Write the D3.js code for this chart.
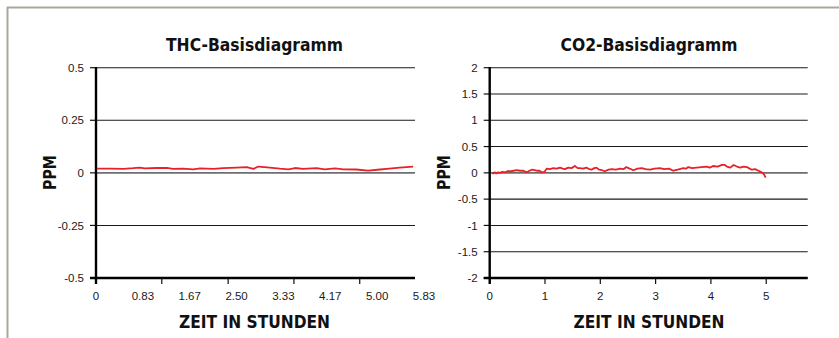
<!DOCTYPE html>
<html><head><meta charset="utf-8">
<script src="https://cdn.jsdelivr.net/npm/d3@7"></script>
<style>
html,body{margin:0;padding:0;background:#fff;}
svg{display:block;}
</style></head>
<body>
<svg id="c" width="839" height="338"></svg>
<script>
// ---- data ----
const thcTitle = "THC-Basisdiagramm";
const co2Title = "CO2-Basisdiagramm";
const xTitle = "ZEIT IN STUNDEN";
const yTitle = "PPM";

const thcXLabels = ["0","0.83","1.67","2.50","3.33","4.17","5.00","5.83"];
const thcXLabelValues = [0,0.833,1.667,2.5,3.333,4.167,5.0,5.833];
const thcXTickMarks = [0,1.17,2.35,3.52,4.69];
const thcYTicks = [0.5,0.25,0,-0.25,-0.5];
const thcYLabels = ["0.5","0.25","0","-0.25","-0.5"];

const co2XTicks = [0,1,2,3,4,5];
const co2YTicks = [2,1.5,1,0.5,0,-0.5,-1,-1.5,-2];
const co2YLabels = ["2","1.5","1","0.5","0","-0.5","-1","-1.5","-2"];

const thcTime = [0.02,0.25,0.49,0.66,0.78,0.87,1.08,1.26,1.37,1.55,1.73,1.85,2.09,2.26,2.50,2.68,2.80,2.89,3.09,3.27,3.42,3.54,3.68,3.92,4.07,4.25,4.40,4.63,4.84,5.05,5.17,5.40,5.64];
const thcPpm  = [0.020,0.020,0.019,0.022,0.025,0.021,0.023,0.024,0.019,0.020,0.017,0.021,0.019,0.022,0.025,0.027,0.019,0.030,0.025,0.020,0.017,0.023,0.019,0.022,0.017,0.021,0.017,0.016,0.011,0.016,0.019,0.025,0.030];

const co2Time = [0.05,0.09,0.12,0.15,0.18,0.23,0.28,0.32,0.37,0.43,0.49,0.55,0.61,0.67,0.72,0.76,0.81,0.85,0.90,0.94,0.99,1.03,1.09,1.15,1.21,1.27,1.32,1.36,1.42,1.48,1.54,1.59,1.63,1.69,1.75,1.80,1.84,1.89,1.93,1.98,2.03,2.08,2.15,2.21,2.28,2.36,2.42,2.47,2.53,2.60,2.67,2.75,2.82,2.90,2.98,3.08,3.15,3.24,3.32,3.40,3.50,3.55,3.59,3.66,3.74,3.83,3.92,3.98,4.04,4.12,4.20,4.25,4.29,4.35,4.41,4.47,4.53,4.59,4.65,4.70,4.74,4.80,4.86,4.92,4.96,4.99];
const co2Ppm  = [-0.02,0.01,-0.01,0.01,0.00,0.02,0.01,0.03,0.03,0.04,0.05,0.04,0.04,0.01,0.04,0.06,0.05,0.04,0.04,0.01,0.02,0.08,0.07,0.09,0.08,0.10,0.08,0.07,0.10,0.09,0.13,0.09,0.09,0.08,0.10,0.07,0.06,0.09,0.10,0.06,0.05,0.03,0.06,0.07,0.06,0.08,0.07,0.11,0.08,0.05,0.08,0.09,0.07,0.06,0.08,0.09,0.07,0.08,0.04,0.06,0.09,0.08,0.11,0.09,0.10,0.11,0.12,0.10,0.13,0.12,0.15,0.15,0.12,0.10,0.15,0.12,0.10,0.12,0.11,0.08,0.06,0.07,0.04,0.01,-0.03,-0.09];

// ---- drawing ----
const svg = d3.select("#c");
const borderCol = "#aba79b";
svg.append("line").attr("x1",7).attr("x2",839).attr("y1",7.5).attr("y2",7.5).attr("stroke",borderCol).attr("stroke-width",2);
svg.append("line").attr("x1",7.5).attr("x2",7.5).attr("y1",7).attr("y2",338).attr("stroke",borderCol).attr("stroke-width",2);

const labFont = "'Liberation Sans', Arial, sans-serif";
const boldFont = "'DejaVu Sans Condensed','DejaVu Sans', sans-serif";

function panel(o){
  const g = svg.append("g");
  const x = d3.scaleLinear().domain(o.xDomain).range(o.xRange);
  const y = d3.scaleLinear().domain(o.yDomain).range([278, 67.7]);
  const xEnd = o.plotEnd;
  // gridlines
  g.selectAll(".grid").data(o.yTicks).enter().append("line")
    .attr("x1", x(0)).attr("x2", xEnd)
    .attr("y1", d=>y(d)).attr("y2", d=>y(d))
    .attr("stroke", d=> d===0 ? "#6e6e6e" : "#1a1a1a")
    .attr("stroke-width", d=> d===0 ? 1.6 : 1.1);
  // y tick marks and labels
  g.selectAll(".yt").data(o.yTicks).enter().append("line")
    .attr("x1", x(0)-6).attr("x2", x(0)).attr("y1", d=>y(d)).attr("y2", d=>y(d))
    .attr("stroke","#111").attr("stroke-width",1.2);
  g.selectAll(".yl").data(o.yTicks).enter().append("text")
    .attr("x", x(0)-12).attr("y", d=>y(d)).attr("dy","0.36em")
    .attr("text-anchor","end").attr("font-family",labFont).attr("font-size",11.5)
    .attr("fill","#1a1a1a").text((d,i)=>o.yLabels[i]);
  // x axis line (bottom)
  g.append("line").attr("x1", x(0)-6).attr("x2", xEnd).attr("y1", 278).attr("y2", 278)
    .attr("stroke","#000").attr("stroke-width",2.6);
  // x tick marks
  g.selectAll(".xt").data(o.xTickMarks).enter().append("line")
    .attr("x1", d=>x(d)).attr("x2", d=>x(d)).attr("y1", 278).attr("y2", 284)
    .attr("stroke","#111").attr("stroke-width",1.2);
  // x labels
  g.selectAll(".xl").data(o.xLabelValues).enter().append("text")
    .attr("x", d=>x(d)).attr("y", 296).attr("dy","0.36em")
    .attr("text-anchor","middle").attr("font-family",labFont).attr("font-size",11.5)
    .attr("fill","#1a1a1a").text((d,i)=>o.xLabels[i]);
  // y axis line
  g.append("line").attr("x1", x(0)).attr("x2", x(0)).attr("y1", 67).attr("y2", 284)
    .attr("stroke","#000").attr("stroke-width",2.4);
  // data line
  const line = d3.line().x(d=>x(d[0])).y(d=>y(d[1]));
  g.append("path").datum(o.time.map((t,i)=>[t,o.values[i]]))
    .attr("d", line).attr("fill","none").attr("stroke","#e8202a").attr("stroke-width",1.8)
    .attr("stroke-linejoin","round");
  // titles
  g.append("text").attr("x", o.titleX).attr("y", 51)
    .attr("text-anchor","middle").attr("font-family",boldFont).attr("font-weight","bold")
    .attr("font-size",17.5).attr("fill","#111")
    .attr("textLength", o.titleLen).attr("lengthAdjust","spacingAndGlyphs")
    .text(o.title);
  g.append("text").attr("x", o.titleX).attr("y", 328)
    .attr("text-anchor","middle").attr("font-family",boldFont).attr("font-weight","bold")
    .attr("font-size",18).attr("fill","#111")
    .attr("textLength", 151).attr("lengthAdjust","spacingAndGlyphs")
    .text(xTitle);
  g.append("text").attr("transform",`translate(${o.yTitleX},172.5) rotate(-90)`)
    .attr("text-anchor","middle").attr("dy","0.36em").attr("font-family",boldFont).attr("font-weight","bold")
    .attr("font-size",18).attr("fill","#111")
    .attr("textLength", 35).attr("lengthAdjust","spacingAndGlyphs")
    .text(yTitle);
}

panel({
  xDomain:[0,5.833], xRange:[96,424], plotEnd:415, yDomain:[-0.5,0.5],
  yTicks:thcYTicks, yLabels:thcYLabels, xTickMarks:thcXTickMarks,
  xLabelValues:thcXLabelValues, xLabels:thcXLabels,
  time:thcTime, values:thcPpm, title:thcTitle, titleX:254.5, titleLen:177, yTitleX:50
});
panel({
  xDomain:[0,5.75], xRange:[489.7,807.7], plotEnd:807.7, yDomain:[-2,2],
  yTicks:co2YTicks, yLabels:co2YLabels, xTickMarks:co2XTicks,
  xLabelValues:co2XTicks, xLabels:co2XTicks.map(String),
  time:co2Time, values:co2Ppm, title:co2Title, titleX:649, titleLen:177, yTitleX:444
});
</script>
</body></html>
